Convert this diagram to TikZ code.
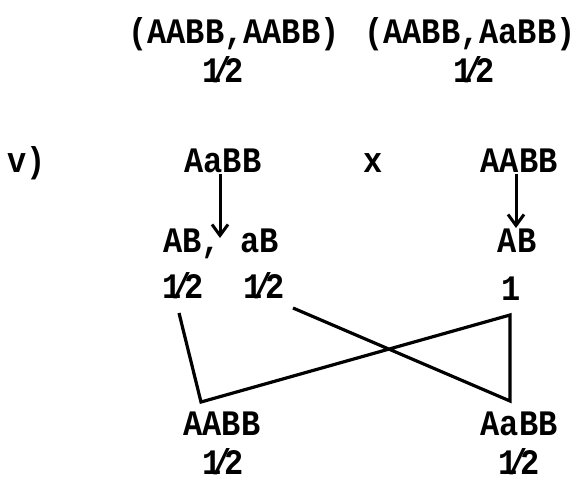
\documentclass[tikz,border=0pt]{standalone}
\usepackage{fontspec}
\setmainfont{Liberation Mono}
\usetikzlibrary{arrows.meta}
\newcommand\hf{1\kern-0.28em/\kern-0.22em2}
\newcommand\tx[1]{\scalebox{1}[1.12]{#1}}
\tikzset{
  txt/.style={anchor=base, inner sep=0pt, font=\fontsize{32}{34}\selectfont\bfseries},
  ln/.style={line width=3.2pt, line join=miter},
  arr/.style={line width=3pt, -{Straight Barb[length=11pt,width=16pt,line width=3pt]}}
}
\begin{document}
\begin{tikzpicture}[x=1pt,y=-1pt]
\useasboundingbox (0,0) rectangle (577,485);
% top row
\node[txt] (t1) at (234,43) {\tx{(AABB,AABB)}};
\node[txt] (t2) at (470,43) {\tx{(AABB,AaBB)}};
\node[txt] (th1) at (223,82) {\tx{\hf}};
\node[txt] (th2) at (474,82) {\tx{\hf}};
% cross
\node[txt] (lab) at (27,172) {\tx{v)}};
\node[txt] (p1) at (223,172) {\tx{AaBB}};
\node[txt] (x) at (373,172) {\tx{x}};
\node[txt] (p2) at (519,172) {\tx{AABB}};
% gametes
\node[txt] (g1) at (221,252) {\tx{AB, aB}};
\node[txt] (g2) at (517,252) {\tx{AB}};
\node[txt] (f1) at (183,298) {\tx{\hf}};
\node[txt] (f2) at (264,298) {\tx{\hf}};
\node[txt] (f3) at (511,300) {\tx{1}};
% offspring
\node[txt] (o1) at (222,435) {\tx{AABB}};
\node[txt] (o2) at (519,435) {\tx{AaBB}};
\node[txt] (oh1) at (223,474) {\tx{\hf}};
\node[txt] (oh2) at (519,474) {\tx{\hf}};
% arrows
\coordinate (a1s) at (220,174);
\coordinate (a1e) at (220,238);
\coordinate (a2s) at (516,174);
\coordinate (a2e) at (516,228);
\draw[arr] (a1s) -- (a1e);
\draw[arr] (a2s) -- (a2e);
% connecting lines
\coordinate (s1) at (179,313);
\coordinate (s2) at (293,308);
\coordinate (s3) at (510,315);
\coordinate (jl) at (201,402);
\coordinate (jr) at (510,401);
\draw[ln] (s1) -- (jl) -- (s3) -- (jr) -- (s2);
\end{tikzpicture}
\end{document}
